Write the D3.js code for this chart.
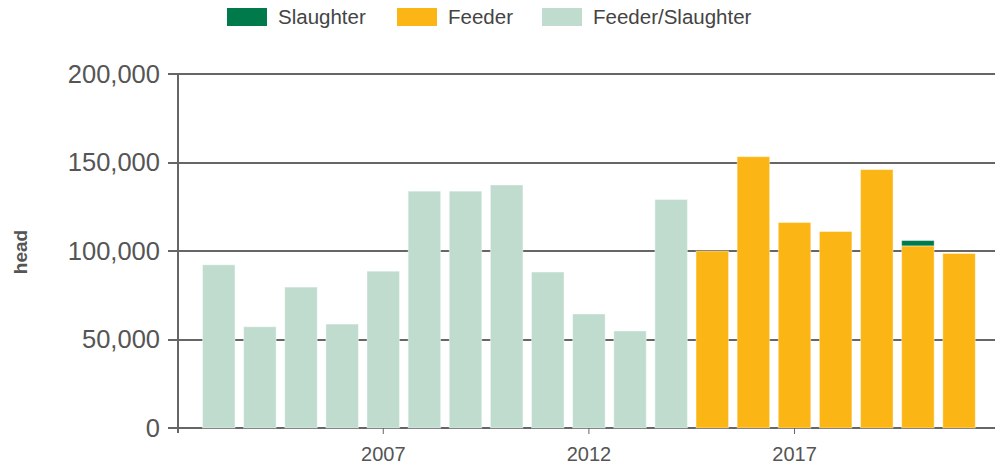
<!DOCTYPE html>
<html>
<head>
<meta charset="utf-8">
<script src="https://cdn.jsdelivr.net/npm/d3@7"></script>
<style>
  body { margin: 0; background: #fff; }
  svg { display: block; font-family: "Liberation Sans", Arial, sans-serif; }
</style>
</head>
<body>
<div class="js-chart"></div>
<script>
'use strict';

// years on the x axis
var years = [2003, 2004, 2005, 2006, 2007, 2008, 2009, 2010, 2011, 2012,
    2013, 2014, 2015, 2016, 2017, 2018, 2019, 2020, 2021];

// head counts per class (0 = none that year)
var feederSlaughter = [92200, 57200, 79600, 58700, 88600, 133800, 133800, 137300,
    88100, 64400, 54800, 129100, 0, 0, 0, 0, 0, 0, 0];
var feeder = [0, 0, 0, 0, 0, 0, 0, 0, 0, 0, 0, 0,
    100000, 153300, 116100, 111000, 146000, 102900, 98600];
var slaughter = [0, 0, 0, 0, 0, 0, 0, 0, 0, 0, 0, 0,
    0, 0, 0, 0, 0, 3000, 0];

var yTicks = [0, 50000, 100000, 150000, 200000];
var xTickYears = [2007, 2012, 2017];

var series = [
    { name: 'Slaughter', values: slaughter, color: '#007a4b' },
    { name: 'Feeder', values: feeder, color: '#fbb615' },
    { name: 'Feeder/Slaughter', values: feederSlaughter, color: '#bfdccf' }
];

var dim = { w: 995, h: 466 };
var plot = { left: 178, top: 74, bottom: 428 };

var svg = d3.select('.js-chart').append('svg')
    .attr('width', dim.w)
    .attr('height', dim.h);

//bars sit in [198, 980], the axis line starts at 178
var x = d3.scaleBand()
    .domain(years)
    .range([198.2, 979.6])
    .paddingInner(0.21)
    .paddingOuter(0.105);

var y = d3.scaleLinear()
    .domain([0, 200000])
    .range([plot.bottom, plot.top]);

//gridlines
svg.append('g').selectAll('line')
    .data(yTicks)
    .enter().append('line')
    .attr('x1', plot.left - 10)
    .attr('x2', dim.w)
    .attr('y1', function (d) { return Math.round(y(d)); })
    .attr('y2', function (d) { return Math.round(y(d)); })
    .style('stroke', '#666')
    .style('stroke-width', 2);

//y axis line
svg.append('line')
    .attr('x1', plot.left).attr('x2', plot.left)
    .attr('y1', y(200000) - 1).attr('y2', y(0) + 5)
    .style('stroke', '#666')
    .style('stroke-width', 2);

//stacked bars: feeder/slaughter, feeder, slaughter on top
var stackOrder = [series[2], series[1], series[0]];
var bars = svg.append('g');
years.forEach(function (yr, i) {
    var base = 0;
    stackOrder.forEach(function (s) {
        var v = s.values[i];
        if (!v) { return; }
        bars.append('rect')
            .attr('x', x(yr))
            .attr('width', x.bandwidth())
            .attr('y', y(base + v))
            .attr('height', y(base) - y(base + v))
            .style('fill', s.color)
            .style('stroke', '#fff')
            .style('stroke-opacity', 0.4)
            .style('stroke-width', 1);
        base += v;
    });
});

//y tick labels
svg.append('g').selectAll('text')
    .data(yTicks)
    .enter().append('text')
    .attr('x', 160)
    .attr('y', function (d) { return y(d); })
    .attr('dy', '0.35em')
    .attr('text-anchor', 'end')
    .style('font-size', '25.5px')
    .style('fill', '#555')
    .text(d3.format(','));

//x ticks and labels
var xt = svg.append('g').selectAll('g')
    .data(xTickYears)
    .enter().append('g')
    .attr('transform', function (d) {
        return 'translate(' + (x(d) + x.bandwidth() / 2) + ',' + y(0) + ')';
    });
xt.append('line')
    .attr('y1', 0).attr('y2', 6)
    .style('stroke', '#666')
    .style('stroke-width', 1);
xt.append('text')
    .attr('y', 33)
    .attr('text-anchor', 'middle')
    .style('font-size', '20px')
    .style('fill', '#555')
    .text(function (d) { return d; });

//y axis title
svg.append('text')
    .attr('transform', 'translate(27,252) rotate(-90)')
    .attr('text-anchor', 'middle')
    .style('font-size', '19px')
    .style('font-weight', 'bold')
    .style('fill', '#555')
    .text('head');

//legend
var legendX = [227, 397, 542];
var lg = svg.append('g').selectAll('g')
    .data(series)
    .enter().append('g')
    .attr('transform', function (d, i) { return 'translate(' + legendX[i] + ',8)'; });
lg.append('rect')
    .attr('width', 40)
    .attr('height', 18)
    .style('fill', function (d) { return d.color; });
lg.append('text')
    .attr('x', 51)
    .attr('y', 9)
    .attr('dy', '0.35em')
    .style('font-size', '20.5px')
    .style('fill', '#444')
    .text(function (d) { return d.name; });
</script>
</body>
</html>
